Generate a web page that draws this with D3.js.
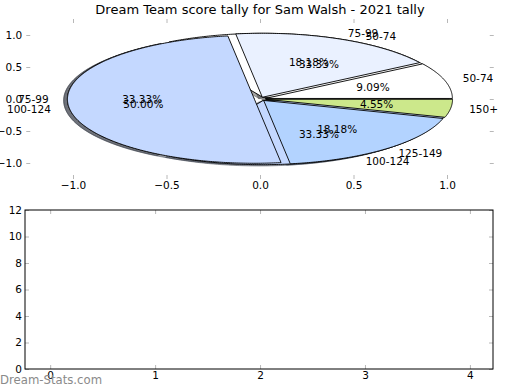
<!DOCTYPE html>
<html><head><meta charset="utf-8">
<script src="https://cdn.jsdelivr.net/npm/d3@7"></script>
<style>body{margin:0;background:#fff} text{font-family:"DejaVu Sans",sans-serif}</style>
</head><body><svg id="c" width="520" height="390"></svg>
<script>
const title = "Dream Team score tally for Sam Walsh - 2021 tally";
const pieALabels = ["50-74","75-99","100-124"];
const pieAValues = [1,1,1];
const pieBLabels = ["50-74","75-99","100-124","125-149","150+"];
const pieBValues = [2,4,11,4,1];
const pieTicks = [-1.0,-0.5,0.0,0.5,1.0];
const barXTicks = [0,1,2,3,4];
const barYTicks = [0,2,4,6,8,10,12];
const labelColors = {"50-74":"#ffffff","75-99":"#eaf1ff","100-124":"#c4d8ff","125-149":"#b3d3ff","150+":"#cce88b"};
const EXPLODE = 0.03, SHADOW = -0.02, FS = 10.5;

const svg = d3.select("#c");
svg.append("rect").attr("width",520).attr("height",390).attr("fill","#fff");

// ---- pie axes ----
const px = d3.scaleLinear().domain([-1.25,1.25]).range([26.25,493.75]);
const py = d3.scaleLinear().domain([-1.25,1.25]).range([179,19]);
const line = d3.line().x(d=>px(d[0])).y(d=>py(d[1]));

function wedges(labels, values){
  const arcs = d3.pie().sort(null).startAngle(0).endAngle(2*Math.PI)(values);
  const total = d3.sum(values);
  return arcs.map((a,i)=>{
    const mid = (a.startAngle+a.endAngle)/2;
    const cx = EXPLODE*Math.cos(mid), cy = EXPLODE*Math.sin(mid);
    const n = Math.max(4, Math.ceil((a.endAngle-a.startAngle)/0.01));
    const pts = [[cx,cy]];
    for(let k=0;k<=n;k++){const t=a.startAngle+(a.endAngle-a.startAngle)*k/n; pts.push([cx+Math.cos(t), cy+Math.sin(t)]);}
    pts.push([cx,cy]);
    return {label:labels[i], pct:(values[i]/total*100).toFixed(2)+"%", mid, cx, cy, pts, color:labelColors[labels[i]]};
  });
}
const wA = wedges(pieALabels, pieAValues);
const wB = wedges(pieBLabels, pieBValues);

const gP = svg.append("g");
function shade(c){const r=d3.rgb(c); return d3.rgb(r.r*0.3,r.g*0.3,r.b*0.3).toString();}
[wA,wB].forEach(ws=>ws.forEach(w=>{
  gP.append("path").attr("d", line(w.pts.map(p=>[p[0]+SHADOW,p[1]+SHADOW])))
    .attr("fill", shade(w.color)).attr("fill-opacity",0.5).attr("stroke", shade(w.color)).attr("stroke-opacity",0.5);
}));
[wA,wB].forEach(ws=>ws.forEach(w=>{
  gP.append("path").attr("d", line(w.pts)).attr("fill", w.color).attr("stroke","#000").attr("stroke-width",0.9).attr("stroke-linejoin","round");
}));
[wA,wB].forEach(ws=>ws.forEach(w=>{
  const xt = w.cx+1.1*Math.cos(w.mid), yt = w.cy+1.1*Math.sin(w.mid);
  gP.append("text").attr("x",px(xt)).attr("y",py(yt)).attr("dy","0.35em")
    .attr("text-anchor", xt>0?"start":"end").attr("font-size",FS).text(w.label);
  gP.append("text").attr("x",px(w.cx+0.6*Math.cos(w.mid))).attr("y",py(w.cy+0.6*Math.sin(w.mid))).attr("dy","0.35em")
    .attr("text-anchor","middle").attr("font-size",FS).text(w.pct);
}));

const tickCol = "#b8b8b8";
function styleAxis(g, showText){
  g.select(".domain").remove();
  g.selectAll(".tick line").attr("stroke",tickCol);
  g.selectAll(".tick text").attr("font-size",FS).attr("fill","#000").attr("font-family","DejaVu Sans");
  if(!showText) g.selectAll(".tick text").remove();
}
const f1 = d3.format(".1f"), fi = d3.format("d");
svg.append("g").attr("transform","translate(26.25,0)").call(d3.axisLeft(py).tickValues(pieTicks).tickFormat(f1).tickSize(-4).tickPadding(4)).call(g=>styleAxis(g,true));
svg.append("g").attr("transform","translate(493.75,0)").call(d3.axisRight(py).tickValues(pieTicks).tickSize(-4)).call(g=>styleAxis(g,false));
svg.append("g").attr("transform","translate(0,179)").call(d3.axisBottom(px).tickValues(pieTicks).tickFormat(f1).tickSize(-4).tickPadding(3)).call(g=>styleAxis(g,true));
svg.append("g").attr("transform","translate(0,19)").call(d3.axisTop(px).tickValues(pieTicks).tickSize(-4)).call(g=>styleAxis(g,false));

svg.append("text").attr("x",260).attr("y",14).attr("text-anchor","middle").attr("font-size",13).text(title);

// ---- empty bar axes ----
const bx = d3.scaleLinear().domain([-0.24,4.22]).range([25,493]);
const by = d3.scaleLinear().domain([0,12]).range([369,210]);
svg.append("g").attr("transform","translate(25,0)").call(d3.axisLeft(by).tickValues(barYTicks).tickFormat(fi).tickSize(-4).tickPadding(3)).call(g=>styleAxis(g,true));
svg.append("g").attr("transform","translate(493,0)").call(d3.axisRight(by).tickValues(barYTicks).tickSize(-4)).call(g=>styleAxis(g,false));
svg.append("g").attr("transform","translate(0,369)").call(d3.axisBottom(bx).tickValues(barXTicks).tickFormat(fi).tickSize(-4).tickPadding(3)).call(g=>styleAxis(g,true));
svg.append("g").attr("transform","translate(0,210)").call(d3.axisTop(bx).tickValues(barXTicks).tickSize(-4)).call(g=>styleAxis(g,false));
svg.append("rect").attr("x",bx.range()[0]).attr("y",by.range()[1]).attr("width",bx.range()[1]-bx.range()[0]).attr("height",by.range()[0]-by.range()[1])
  .attr("fill","none").attr("stroke","#000").attr("stroke-width",1);

svg.append("text").attr("x",0).attr("y",384).attr("font-size",11.7).attr("fill","#8a8a8a").text("Dream-Stats.com");
</script></body></html>
